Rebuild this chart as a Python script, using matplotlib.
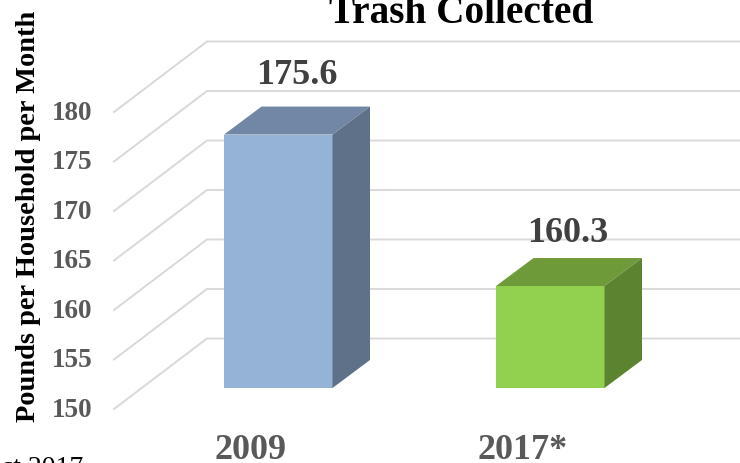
import matplotlib
matplotlib.use("Agg")
import matplotlib.pyplot as plt
from matplotlib.patches import Polygon

categories = ["2009", "2017*"]
values = [175.6, 160.3]
y_ticks = [150, 155, 160, 165, 170, 175, 180]
title = "Trash Collected"
y_label = "Pounds per Household per Month"
front_colors = ["#95B3D7", "#92D050"]
top_colors = ["#7286A5", "#6F9A3A"]
side_colors = ["#5F7189", "#5C8430"]

W, H = 740, 464
PX_X = 272.0      # px per category
PX_Y = 9.9        # px per value unit
X0, Y0 = 278.25, 389.0
plt.rcParams["font.family"] = ["Liberation Serif", "DejaVu Serif"]
plt.rcParams["font.weight"] = "bold"

fig = plt.figure(figsize=(W / 100, H / 100), dpi=100)
ax = fig.add_axes([0, 0, 1, 1])
ax.set_xlim(-X0 / PX_X, (W - X0) / PX_X)
ax.set_ylim(150 - (H - Y0) / PX_Y, 150 + Y0 / PX_Y)
ax.axis("off")

bar_w = 108.5 / PX_X
dx, dy = 37.5 / PX_X, 28 / PX_Y
grid_front_x = (114 - X0) / PX_X
grid_back_x = (207 - X0) / PX_X
grid_front_dy = -21 / PX_Y
grid_back_dy = 49.5 / PX_Y
tick_x = (92.5 - X0) / PX_X
for t in y_ticks:
    ax.plot([grid_front_x, grid_back_x, ax.get_xlim()[1]],
            [t + grid_front_dy, t + grid_back_dy, t + grid_back_dy],
            color="#D9D9D9", lw=1.4, zorder=1, solid_joinstyle="miter")
    ax.text(tick_x, t + grid_front_dy, str(t), ha="right", va="center",
            fontsize=19.5, color="#595959")

label_gap = [3.2, 2.53]
label_dx = [0.07, 0.065]
cat_dx = [-0.103, -0.10]
for i, v in enumerate(values):
    l, r = i - bar_w / 2, i + bar_w / 2
    ax.add_patch(Polygon([(l, 150), (r, 150), (r, v), (l, v)], fc=front_colors[i], ec="none", zorder=3))
    ax.add_patch(Polygon([(l, v), (r, v), (r + dx, v + dy), (l + dx, v + dy)], fc=top_colors[i], ec="none", zorder=3))
    ax.add_patch(Polygon([(r, 150), (r + dx, 150 + dy), (r + dx, v + dy), (r, v)], fc=side_colors[i], ec="none", zorder=3))
    ax.text(i + label_dx[i], v + dy + label_gap[i], f"{v:.1f}", ha="center", va="center",
            fontsize=26, color="#404040", zorder=4)
    ax.text(i + cat_dx[i], 150 - 70 / PX_Y, categories[i], ha="center", va="baseline",
            fontsize=26, color="#595959", zorder=4)

fig.text(461 / W, 1 - 23 / H, title, ha="center", va="baseline", fontsize=28.3, color="black")
fig.text(41 / W, 1 - 216 / H, y_label, rotation=90, ha="right", va="center", fontsize=20.4, color="black")
fig.text(1 / W, 1 - 475 / H, "ct 2017", ha="left", va="baseline", fontsize=20, color="black", fontweight="normal")
fig.savefig("out.png", dpi=100)
